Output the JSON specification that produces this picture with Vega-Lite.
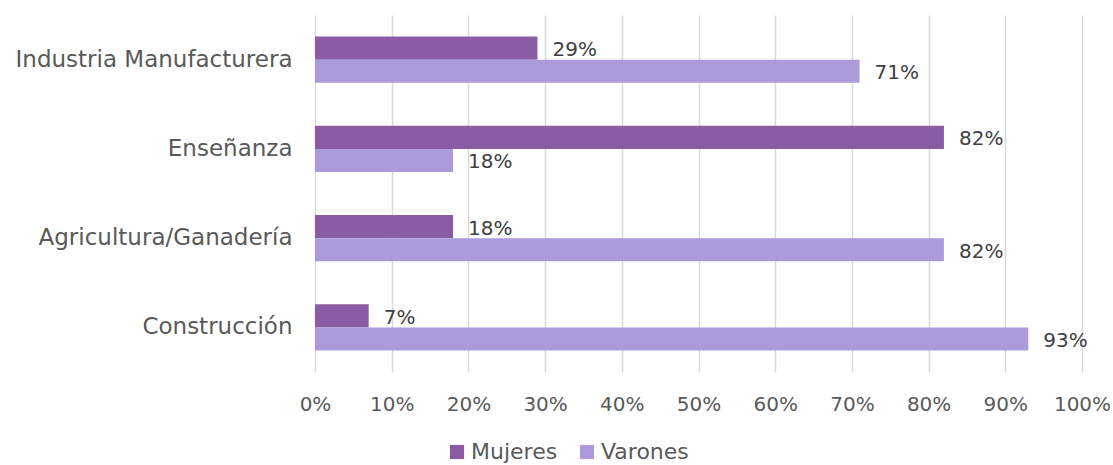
{
  "$schema": "https://vega.github.io/schema/vega-lite/v6.json",
  "autosize": {"type": "none"},
  "width": 767,
  "height": 357,
  "padding": {"left": 315, "top": 15, "right": 31, "bottom": 93},
  "background": "white",
  "config": {
    "font": "DejaVu Sans",
    "view": {"stroke": null},
    "axis": {"labelFont": "DejaVu Sans", "labelColor": "#595959", "labelFontSize": 20}
  },
  "data": {
    "values": [
      {"sector": "Industria Manufacturera", "sexo": "Mujeres", "valor": 0.29},
      {"sector": "Industria Manufacturera", "sexo": "Varones", "valor": 0.71},
      {"sector": "Enseñanza", "sexo": "Mujeres", "valor": 0.82},
      {"sector": "Enseñanza", "sexo": "Varones", "valor": 0.18},
      {"sector": "Agricultura/Ganadería", "sexo": "Mujeres", "valor": 0.18},
      {"sector": "Agricultura/Ganadería", "sexo": "Varones", "valor": 0.82},
      {"sector": "Construcción", "sexo": "Mujeres", "valor": 0.07},
      {"sector": "Construcción", "sexo": "Varones", "valor": 0.93}
    ]
  },
  "encoding": {
    "y": {
      "field": "sector",
      "type": "nominal",
      "sort": ["Industria Manufacturera", "Enseñanza", "Agricultura/Ganadería", "Construcción"],
      "scale": {"paddingInner": 0.48, "paddingOuter": 0.24},
      "axis": {"title": null, "ticks": false, "domain": false, "labelPadding": 23, "labelLimit": 400, "labelFontSize": 23}
    },
    "yOffset": {"field": "sexo", "type": "nominal", "sort": ["Mujeres", "Varones"]},
    "x": {
      "field": "valor",
      "type": "quantitative",
      "scale": {"domain": [0, 1]},
      "axis": {
        "title": null, "format": ".0%", "values": [0,0.1,0.2,0.3,0.4,0.5,0.6,0.7,0.8,0.9,1],
        "labelOverlap": false, "labelFlush": false,
        "domain": false, "ticks": false, "labelPadding": 22,
        "grid": true, "gridColor": "#D9D9D9", "gridWidth": 1.5
      }
    }
  },
  "layer": [
    {
      "mark": {"type": "bar"},
      "encoding": {
        "color": {
          "field": "sexo",
          "type": "nominal",
          "sort": ["Mujeres", "Varones"],
          "scale": {"domain": ["Mujeres", "Varones"], "range": ["#8A5CA3", "#AB9BDB"]},
          "legend": {
            "title": null, "orient": "none", "direction": "horizontal",
            "legendX": 131, "legendY": 426,
            "symbolType": "square", "symbolSize": 200, "symbolStrokeWidth": 0,
            "labelFontSize": 22, "labelColor": "#595959", "labelFont": "DejaVu Sans",
            "columnPadding": 18, "labelOffset": 3
          }
        }
      }
    },
    {
      "mark": {"type": "text", "align": "left", "baseline": "middle", "dx": 15, "dy": 2, "fontSize": 20, "color": "#404040", "font": "DejaVu Sans"},
      "encoding": {
        "text": {"field": "valor", "type": "quantitative", "format": ".0%"}
      }
    }
  ]
}
